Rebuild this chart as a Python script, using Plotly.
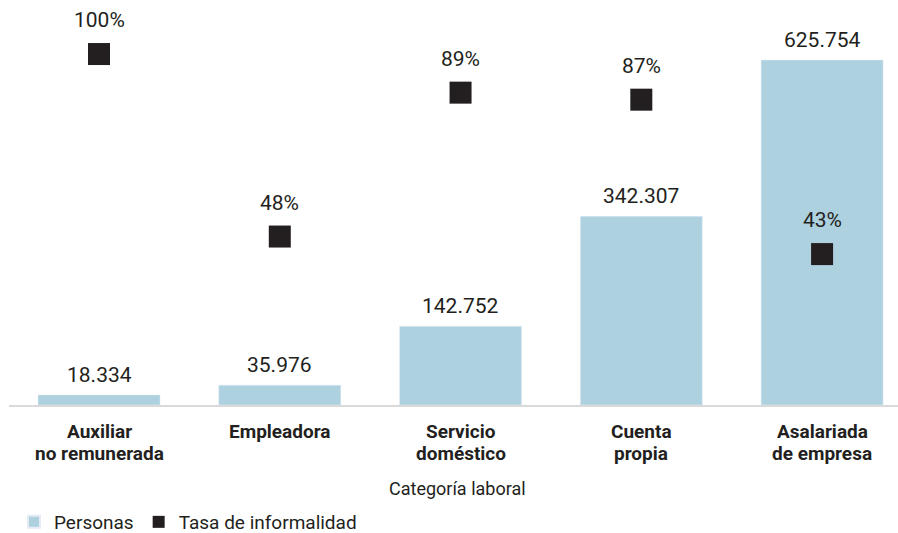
import plotly.graph_objects as go

categories = ["Auxiliar<br>no remunerada", "Empleadora", "Servicio<br>doméstico", "Cuenta<br>propia", "Asalariada<br>de empresa"]
personas = [18334, 35976, 142752, 342307, 625754]
personas_labels = ["18.334", "35.976", "142.752", "342.307", "625.754"]
tasa = [100, 48, 89, 87, 43]
tasa_labels = ["100%", "48%", "89%", "87%", "43%"]

FONT = "Roboto"
TXT = "#231f20"
BLUE = "#aed1e0"

x = list(range(len(categories)))

fig = go.Figure()
fig.add_trace(go.Bar(x=x, y=personas, name="Personas", marker_color=BLUE,
                     width=0.675, yaxis="y", hoverinfo="skip"))
fig.add_trace(go.Scatter(x=x, y=tasa, name="Tasa de informalidad", mode="markers",
                         marker=dict(symbol="square", size=22, color=TXT),
                         yaxis="y2", hoverinfo="skip"))

annotations = []
for i in x:
    annotations.append(dict(x=i, y=personas[i], xref="x", yref="y", text=personas_labels[i],
                            showarrow=False, yanchor="middle", yshift=20,
                            font=dict(family=FONT, size=21, color=TXT)))
    annotations.append(dict(x=i, y=tasa[i], xref="x", yref="y2", text=tasa_labels[i],
                            showarrow=False, yanchor="middle", yshift=34,
                            font=dict(family=FONT, size=21, color=TXT)))
    # category label lines (tight leading as in the original)
    for j, line in enumerate(categories[i].split("<br>")):
        annotations.append(dict(x=i, y=0, xref="x", yref="paper", text=f"<b>{line}</b>",
                                showarrow=False, yanchor="middle", yshift=-26 - 22 * j,
                                borderpad=0,
                                font=dict(family=FONT, size=19, color=TXT)))

annotations.append(dict(x=(457 - 9) / 889, y=0, xref="paper", yref="paper", text="Categoría laboral",
                        showarrow=False, yanchor="middle", yshift=-83,
                        font=dict(family=FONT, size=18, color=TXT)))

fig.update_layout(
    width=898, height=533,
    margin=dict(l=9, r=0, t=20, b=128, autoexpand=False),
    plot_bgcolor="white", paper_bgcolor="white",
    font=dict(family=FONT, color=TXT),
    showlegend=True,
    legend=dict(orientation="h", x=14 / 898, xref="container", y=11 / 533, yref="container",
                yanchor="middle", xanchor="left", font=dict(size=19, color=TXT),
                itemsizing="constant", traceorder="normal"),
    xaxis=dict(range=[-0.498, 4.42], tickvals=x, showticklabels=False,
               showgrid=False, zeroline=False,
               showline=True, linecolor="#d9d9d9", linewidth=2, ticks=""),
    yaxis=dict(range=[0, 698330], visible=False, showgrid=False, zeroline=False),
    yaxis2=dict(range=[0, 109.7], visible=False, overlaying="y", side="right", showgrid=False, zeroline=False),
    annotations=annotations,
)

fig.write_html("out.html", config={"displayModeBar": False},
               post_script="document.body.style.margin='0';")
